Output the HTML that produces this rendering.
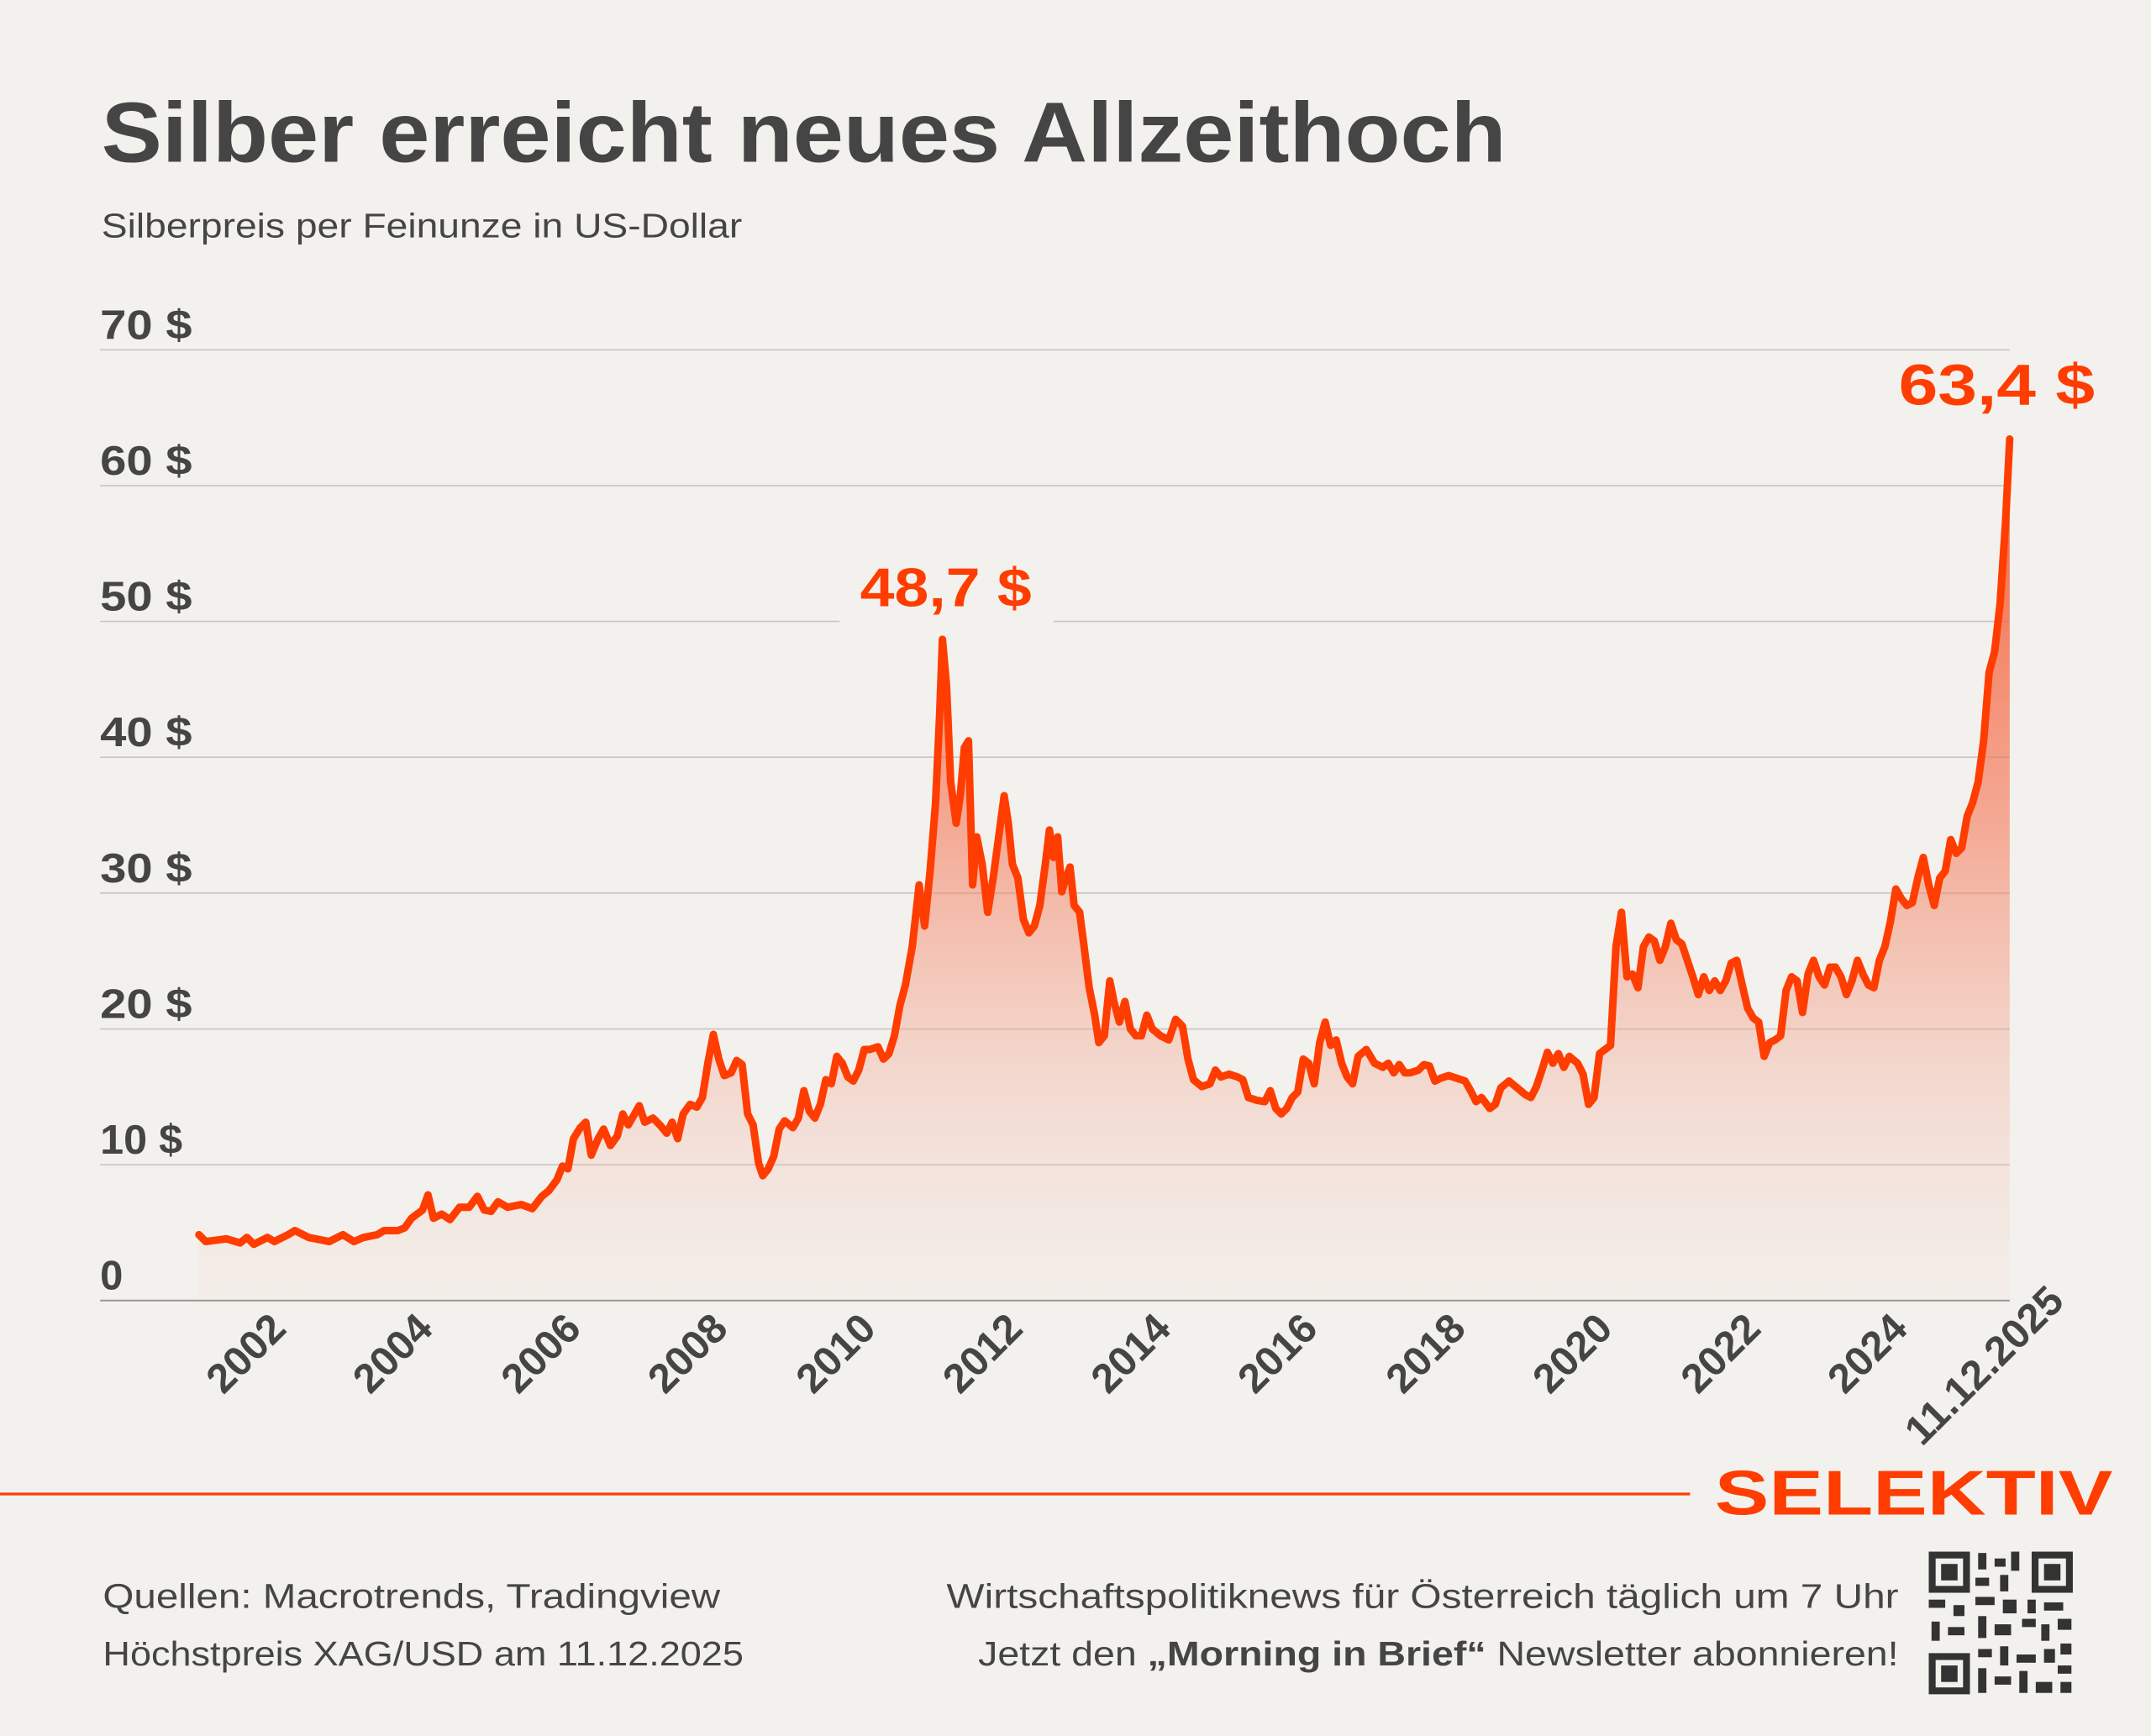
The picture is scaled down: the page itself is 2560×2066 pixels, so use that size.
<!DOCTYPE html>
<html><head><meta charset="utf-8"><style>
html,body{margin:0;padding:0;background:#f3f1ed;}
svg{display:block;}
</style></head><body>
<svg width="2560" height="2066" viewBox="0 0 1568 1265.4" xmlns="http://www.w3.org/2000/svg" font-family="Liberation Sans, sans-serif">
<defs>
<linearGradient id="g" x1="0" y1="320" x2="0" y2="948" gradientUnits="userSpaceOnUse">
<stop offset="0" stop-color="#f4532a" stop-opacity="0.95"/>
<stop offset="0.45" stop-color="#f47a5a" stop-opacity="0.6"/>
<stop offset="1" stop-color="#f3c8bc" stop-opacity="0.08"/>
</linearGradient>
</defs>
<rect width="1568" height="1265.4" fill="#f3f1ed"/>
<text x="74" y="118" font-size="62" font-weight="bold" fill="#454545" textLength="1024" lengthAdjust="spacingAndGlyphs">Silber erreicht neues Allzeithoch</text>
<text x="74" y="173" font-size="25" fill="#454545" textLength="467" lengthAdjust="spacingAndGlyphs">Silberpreis per Feinunze in US-Dollar</text>
<g stroke="#c9c6c2" stroke-width="1">
<line x1="73" x2="1465" y1="255" y2="255"/><line x1="73" x2="1465" y1="354" y2="354"/>
<line x1="73" x2="612" y1="453" y2="453"/><line x1="768" x2="1465" y1="453" y2="453"/>
<line x1="73" x2="1465" y1="552" y2="552"/><line x1="73" x2="1465" y1="651" y2="651"/>
<line x1="73" x2="1465" y1="750" y2="750"/><line x1="73" x2="1465" y1="849" y2="849"/>
</g>
<g font-size="30" font-weight="bold" fill="#454545">
<text x="73" y="247" textLength="67" lengthAdjust="spacingAndGlyphs">70 $</text><text x="73" y="346" textLength="67" lengthAdjust="spacingAndGlyphs">60 $</text><text x="73" y="445" textLength="67" lengthAdjust="spacingAndGlyphs">50 $</text>
<text x="73" y="544" textLength="67" lengthAdjust="spacingAndGlyphs">40 $</text><text x="73" y="643" textLength="67" lengthAdjust="spacingAndGlyphs">30 $</text><text x="73" y="742" textLength="67" lengthAdjust="spacingAndGlyphs">20 $</text>
<text x="73" y="841" textLength="60" lengthAdjust="spacingAndGlyphs">10 $</text><text x="73" y="940">0</text>
</g>
<path fill="url(#g)" stroke="none" d="M145,900 L150,905 165,903 175,906 180,902 185,907 195,902 200,905 210,900 215,897 225,902 240,905 250,900 258,905 265,902 275,900 280,897 290,897 295,895 300,888 308,882 312,871 316,888 322,885 328,889 335,880 342,880 348,872 353,882 358,883 363,876 370,880 380,878 388,881 395,872 400,868 406,860 410,850 414,852 418,830 423,822 427,818 431,842 436,830 440,823 445,835 450,828 454,812 458,820 462,813 466,806 470,818 476,815 481,820 486,826 490,818 494,830 498,812 503,805 508,807 512,800 516,775 520,754 524,772 528,784 533,782 537,773 541,776 545,812 549,820 553,848 556,857 560,852 564,843 568,823 572,817 578,822 582,815 586,795 590,810 594,815 598,805 602,787 606,790 610,770 614,775 618,785 622,788 626,780 630,765 634,765 640,763 644,772 648,768 652,755 656,733 660,718 665,690 670,645 674,675 678,635 682,585 685,520 687,466 690,500 693,570 697,600 700,580 703,545 706,540 709,645 712,610 716,630 720,665 724,640 728,610 732,580 735,600 738,630 742,640 746,670 750,680 754,675 758,660 762,630 765,605 768,625 771,610 774,650 777,640 780,632 783,660 787,665 790,688 794,720 798,740 801,760 805,755 809,715 812,730 816,745 820,730 824,750 828,755 832,755 836,740 840,750 846,755 852,758 857,743 862,748 866,772 870,787 876,792 882,790 886,780 890,785 896,783 902,785 906,787 910,800 916,802 922,803 926,795 930,808 934,812 938,808 942,800 946,796 950,772 954,775 958,790 962,760 966,745 970,762 974,758 978,775 982,785 986,790 990,770 996,765 1002,775 1008,778 1012,775 1016,782 1020,776 1024,782 1028,782 1034,780 1038,776 1042,777 1046,788 1050,786 1056,784 1062,786 1068,788 1072,795 1076,803 1080,800 1086,808 1090,805 1094,793 1100,788 1106,793 1112,798 1116,800 1120,792 1124,780 1128,767 1132,775 1136,768 1140,778 1144,770 1150,775 1154,783 1158,805 1162,800 1166,768 1170,765 1174,762 1178,690 1182,665 1186,712 1190,710 1194,720 1198,690 1202,683 1206,686 1210,700 1214,690 1218,673 1222,685 1226,688 1230,700 1234,712 1238,725 1242,712 1246,722 1250,715 1254,722 1258,715 1262,702 1266,700 1270,718 1274,735 1278,742 1282,745 1286,770 1290,760 1294,758 1298,755 1302,722 1306,712 1310,715 1314,738 1318,710 1322,700 1326,712 1330,718 1334,705 1338,705 1342,712 1346,725 1350,715 1354,700 1358,710 1362,718 1366,720 1370,700 1374,690 1378,672 1382,648 1386,655 1390,660 1394,658 1398,640 1402,625 1406,645 1410,660 1414,640 1418,635 1422,612 1426,622 1430,618 1434,595 1438,585 1442,570 1446,540 1450,490 1454,475 1458,440 1462,380 1465,320 L1465,948 L145,948 Z"/>
<line x1="73" x2="1465" y1="948" y2="948" stroke="#9a9692" stroke-width="1.2"/>
<polyline fill="none" stroke="#ff3d00" stroke-width="5.5" stroke-linejoin="round" stroke-linecap="round" points="145,900 150,905 165,903 175,906 180,902 185,907 195,902 200,905 210,900 215,897 225,902 240,905 250,900 258,905 265,902 275,900 280,897 290,897 295,895 300,888 308,882 312,871 316,888 322,885 328,889 335,880 342,880 348,872 353,882 358,883 363,876 370,880 380,878 388,881 395,872 400,868 406,860 410,850 414,852 418,830 423,822 427,818 431,842 436,830 440,823 445,835 450,828 454,812 458,820 462,813 466,806 470,818 476,815 481,820 486,826 490,818 494,830 498,812 503,805 508,807 512,800 516,775 520,754 524,772 528,784 533,782 537,773 541,776 545,812 549,820 553,848 556,857 560,852 564,843 568,823 572,817 578,822 582,815 586,795 590,810 594,815 598,805 602,787 606,790 610,770 614,775 618,785 622,788 626,780 630,765 634,765 640,763 644,772 648,768 652,755 656,733 660,718 665,690 670,645 674,675 678,635 682,585 685,520 687,466 690,500 693,570 697,600 700,580 703,545 706,540 709,645 712,610 716,630 720,665 724,640 728,610 732,580 735,600 738,630 742,640 746,670 750,680 754,675 758,660 762,630 765,605 768,625 771,610 774,650 777,640 780,632 783,660 787,665 790,688 794,720 798,740 801,760 805,755 809,715 812,730 816,745 820,730 824,750 828,755 832,755 836,740 840,750 846,755 852,758 857,743 862,748 866,772 870,787 876,792 882,790 886,780 890,785 896,783 902,785 906,787 910,800 916,802 922,803 926,795 930,808 934,812 938,808 942,800 946,796 950,772 954,775 958,790 962,760 966,745 970,762 974,758 978,775 982,785 986,790 990,770 996,765 1002,775 1008,778 1012,775 1016,782 1020,776 1024,782 1028,782 1034,780 1038,776 1042,777 1046,788 1050,786 1056,784 1062,786 1068,788 1072,795 1076,803 1080,800 1086,808 1090,805 1094,793 1100,788 1106,793 1112,798 1116,800 1120,792 1124,780 1128,767 1132,775 1136,768 1140,778 1144,770 1150,775 1154,783 1158,805 1162,800 1166,768 1170,765 1174,762 1178,690 1182,665 1186,712 1190,710 1194,720 1198,690 1202,683 1206,686 1210,700 1214,690 1218,673 1222,685 1226,688 1230,700 1234,712 1238,725 1242,712 1246,722 1250,715 1254,722 1258,715 1262,702 1266,700 1270,718 1274,735 1278,742 1282,745 1286,770 1290,760 1294,758 1298,755 1302,722 1306,712 1310,715 1314,738 1318,710 1322,700 1326,712 1330,718 1334,705 1338,705 1342,712 1346,725 1350,715 1354,700 1358,710 1362,718 1366,720 1370,700 1374,690 1378,672 1382,648 1386,655 1390,660 1394,658 1398,640 1402,625 1406,645 1410,660 1414,640 1418,635 1422,612 1426,622 1430,618 1434,595 1438,585 1442,570 1446,540 1450,490 1454,475 1458,440 1462,380 1465,320"/>
<text x="627" y="442" font-size="40" font-weight="bold" fill="#ff3d00" textLength="125" lengthAdjust="spacingAndGlyphs">48,7 $</text>
<text x="1384" y="295" font-size="42" font-weight="bold" fill="#ff3d00" textLength="143" lengthAdjust="spacingAndGlyphs">63,4 $</text>
<g font-size="30" font-weight="bold" fill="#454545" text-anchor="end">
<text transform="translate(210,970) rotate(-45)">2002</text>
<text transform="translate(317,970) rotate(-45)">2004</text>
<text transform="translate(425,970) rotate(-45)">2006</text>
<text transform="translate(532,970) rotate(-45)">2008</text>
<text transform="translate(640,970) rotate(-45)">2010</text>
<text transform="translate(747,970) rotate(-45)">2012</text>
<text transform="translate(855,970) rotate(-45)">2014</text>
<text transform="translate(962,970) rotate(-45)">2016</text>
<text transform="translate(1070,970) rotate(-45)">2018</text>
<text transform="translate(1177,970) rotate(-45)">2020</text>
<text transform="translate(1285,970) rotate(-45)">2022</text>
<text transform="translate(1392,970) rotate(-45)">2024</text>
<text transform="translate(1506,950) rotate(-45)">11.12.2025</text>
</g>
<line x1="0" x2="1232" y1="1089" y2="1089" stroke="#ff3d00" stroke-width="2"/>
<text x="1250" y="1104" font-size="46" font-weight="bold" fill="#ff3d00" textLength="290" lengthAdjust="spacingAndGlyphs">SELEKTIV</text>
<g font-size="25" fill="#454545">
<text x="75" y="1172" textLength="450" lengthAdjust="spacingAndGlyphs">Quellen: Macrotrends, Tradingview</text>
<text x="75" y="1214" textLength="467" lengthAdjust="spacingAndGlyphs">Höchstpreis XAG/USD am 11.12.2025</text>
<text x="690" y="1172" textLength="694" lengthAdjust="spacingAndGlyphs">Wirtschaftspolitiknews für Österreich täglich um 7 Uhr</text>
<text x="713" y="1214" textLength="671" lengthAdjust="spacingAndGlyphs">Jetzt den <tspan font-weight="bold">„Morning in Brief“</tspan> Newsletter abonnieren!</text>
</g>
<g fill="#333">
<rect x="1406" y="1131" width="30" height="30"/><rect x="1411" y="1136" width="20" height="20" fill="#f3f1ed"/><rect x="1415" y="1140" width="12" height="12"/>
<rect x="1481" y="1131" width="30" height="30"/><rect x="1486" y="1136" width="20" height="20" fill="#f3f1ed"/><rect x="1490" y="1140" width="12" height="12"/>
<rect x="1406" y="1205" width="30" height="30"/><rect x="1411" y="1210" width="20" height="20" fill="#f3f1ed"/><rect x="1415" y="1214" width="12" height="12"/>
<rect x="1442" y="1132" width="6" height="12"/><rect x="1454" y="1136" width="8" height="6"/><rect x="1466" y="1131" width="6" height="14"/>
<rect x="1440" y="1150" width="10" height="6"/><rect x="1458" y="1148" width="6" height="12"/><rect x="1406" y="1166" width="12" height="6"/>
<rect x="1424" y="1170" width="8" height="8"/><rect x="1440" y="1164" width="14" height="6"/><rect x="1460" y="1166" width="10" height="10"/>
<rect x="1478" y="1166" width="6" height="10"/><rect x="1490" y="1168" width="14" height="6"/><rect x="1408" y="1182" width="6" height="14"/>
<rect x="1420" y="1186" width="12" height="6"/><rect x="1442" y="1178" width="6" height="16"/><rect x="1454" y="1184" width="12" height="8"/>
<rect x="1474" y="1180" width="10" height="6"/><rect x="1488" y="1184" width="6" height="12"/><rect x="1500" y="1180" width="10" height="8"/>
<rect x="1442" y="1202" width="10" height="6"/><rect x="1458" y="1200" width="6" height="14"/><rect x="1470" y="1206" width="14" height="6"/>
<rect x="1490" y="1202" width="8" height="10"/><rect x="1502" y="1198" width="8" height="8"/><rect x="1442" y="1216" width="6" height="18"/>
<rect x="1454" y="1222" width="12" height="6"/><rect x="1472" y="1218" width="6" height="16"/><rect x="1484" y="1226" width="12" height="8"/>
<rect x="1500" y="1214" width="10" height="6"/><rect x="1502" y="1226" width="8" height="8"/>
</g>
</svg>
</body></html>
